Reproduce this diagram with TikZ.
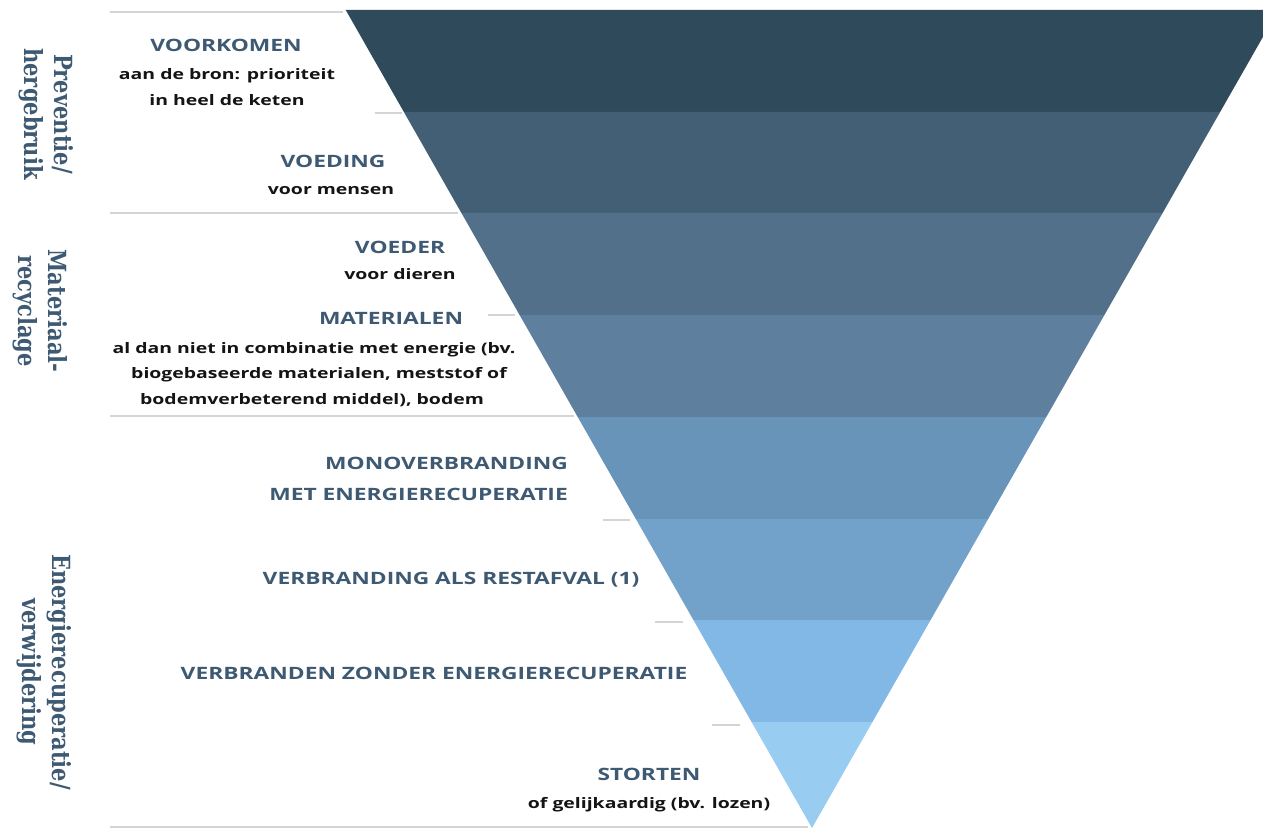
\documentclass[tikz,border=0pt]{standalone}
\usepackage{fontspec}
\setmainfont{Open Sans}
\newfontfamily\widefont{Open Sans}[FakeStretch=1.34]
\newfontfamily\sidefont{DejaVu Serif Bold}[FakeStretch=0.84]
\definecolor{bA}{RGB}{46,74,91}
\definecolor{bB}{RGB}{67,95,117}
\definecolor{bC}{RGB}{82,112,138}
\definecolor{bD}{RGB}{94,128,158}
\definecolor{bE}{RGB}{104,148,185}
\definecolor{bF}{RGB}{114,161,201}
\definecolor{bG}{RGB}{130,184,230}
\definecolor{bH}{RGB}{152,204,240}
\definecolor{titleblue}{RGB}{62,90,115}
\definecolor{sepgray}{RGB}{212,212,212}
\definecolor{dark}{RGB}{20,20,20}
\tikzset{
  ttl/.style={font=\widefont\bfseries\fontsize{17}{20}\selectfont, text=titleblue, inner sep=0pt, anchor=base},
  dsc/.style={font=\widefont\bfseries\fontsize{14.5}{20}\selectfont, text=dark, inner sep=0pt, anchor=base},
  side/.style={font=\sidefont\fontsize{25}{30}\selectfont, text=titleblue, inner sep=0pt, align=center, rotate=-90},
  sep/.style={draw=sepgray, line width=2.8pt}
}
\begin{document}
\begin{tikzpicture}[x=1pt,y=-1pt]
\useasboundingbox (0,0) rectangle (1263,829);
\fill[white] (0,0) rectangle (1263,829);
\begin{scope}
\clip (0,0) rectangle (1263,829);
\fill[bA] (345.7,10) -- (1278.3,10) -- (1220.1,112) -- (403.9,112) -- cycle;
\fill[bB] (403.9,112) -- (1220.1,112) -- (1162.6,213) -- (461.4,213) -- cycle;
\fill[bC] (461.4,213) -- (1162.6,213) -- (1104.4,315) -- (519.6,315) -- cycle;
\fill[bD] (519.6,315) -- (1104.4,315) -- (1046.3,417) -- (577.7,417) -- cycle;
\fill[bE] (577.7,417) -- (1046.3,417) -- (988.1,519) -- (635.9,519) -- cycle;
\fill[bF] (635.9,519) -- (988.1,519) -- (930.6,620) -- (693.4,620) -- cycle;
\fill[bG] (693.4,620) -- (930.6,620) -- (872.4,722) -- (751.6,722) -- cycle;
\fill[bH] (751.6,722) -- (872.4,722) -- (812,828) -- cycle;
\end{scope}
% separators
\draw[sep] (110,12) -- (343,12);
\draw[sep] (110,213) -- (458,213);
\draw[sep] (110,416) -- (574,416);
\draw[sep] (110,827) -- (808,827);
\draw[sep] (375,113) -- (402,113);
\draw[sep] (488,315) -- (515,315);
\draw[sep] (603,520) -- (630,520);
\draw[sep] (655,622) -- (683,622);
\draw[sep] (712,725) -- (740,725);
% side labels
\node[side] (prev) at (46,114) {Preventie/\\hergebruik};
\node[side] (mat) at (40,311) {Materiaal-\\recyclage};
\node[side] (energ) at (44,672) {Energierecuperatie/\\verwijdering};
% texts
\node[ttl] (voorkomen) at (226,52) {VOORKOMEN};
\node[dsc] (voorkomenA) at (227,80) {aan de bron: prioriteit};
\node[dsc] (voorkomenB) at (227,106) {in heel de keten};
\node[ttl] (voeding) at (333,168) {VOEDING};
\node[dsc] (voedingA) at (331,194) {voor mensen};
\node[ttl] (voeder) at (400,253) {VOEDER};
\node[dsc] (voederA) at (400,279) {voor dieren};
\node[ttl] (materialen) at (391,324) {MATERIALEN};
\node[dsc] (materialenA) at (314,353) {al dan niet in combinatie met energie (bv.};
\node[dsc] (materialenB) at (319,378) {biogebaseerde materialen, meststof of};
\node[dsc] (materialenC) at (312,404) {bodemverbeterend middel), bodem};
\node[ttl, anchor=base east] (mono) at (568,469) {MONOVERBRANDING};
\node[ttl, anchor=base east] (monoB) at (568,500) {MET ENERGIERECUPERATIE};
\node[ttl] (verbr) at (451,584) {VERBRANDING ALS RESTAFVAL (1)};
\node[ttl] (zonder) at (434,679) {VERBRANDEN ZONDER ENERGIERECUPERATIE};
\node[ttl] (storten) at (649,780) {STORTEN};
\node[dsc] (stortenA) at (649,808) {of gelijkaardig (bv. lozen)};
\end{tikzpicture}
\end{document}
